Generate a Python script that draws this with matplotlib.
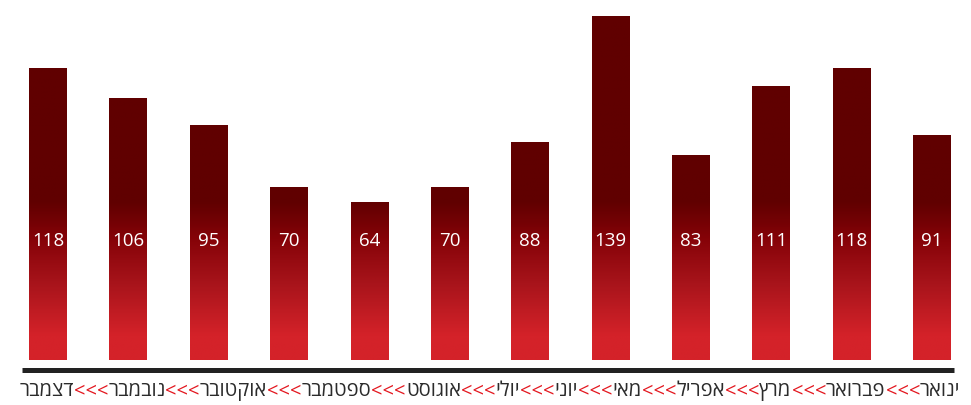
import matplotlib

matplotlib.use("Agg")
import matplotlib.pyplot as plt
import numpy as np
from matplotlib.colors import LinearSegmentedColormap
from matplotlib.transforms import IdentityTransform

# data, January first (Hebrew, logical order)
months = ["ינואר", "פברואר", "מרץ", "אפריל", "מאי", "יוני",
          "יולי", "אוגוסט", "ספטמבר", "אוקטובר", "נובמבר", "דצמבר"]
values = [91, 118, 111, 83, 139, 88, 70, 64, 70, 95, 106, 118]
separator = "<<<"

FAMILY = ["Open Sans", "DejaVu Sans"]
DARK = "#600000"
BRIGHT = "#d42229"
SEP_RED = "#e3161e"
TEXT = "#2b2b2b"

W, H = 971, 406
SLOT_PX = 80.36      # distance between bar centres
UNIT_PX = 2.47       # pixels per value unit
FIRST_PX = 48        # centre of the leftmost bar
BASE_PX = 360.7      # bar bottom, from top of image

fig = plt.figure(figsize=(W / 100, H / 100), dpi=100)
ax = fig.add_axes([0, 0, 1, 1])
ax.axis("off")

# right-to-left: January sits at the right end
pos = (len(months) - 1) - np.arange(len(months))
bar_w = 0.47
vmax = max(values)

cmap = LinearSegmentedColormap.from_list(
    "redfade",
    [(0.0, BRIGHT), (0.07, BRIGHT), (0.22, "#a8141b"), (0.35, "#860308"),
     (0.46, DARK), (1.0, DARK)],
)
grad = np.linspace(0, vmax, 500).reshape(-1, 1)

bars = ax.bar(pos, values, width=bar_w, color="none", edgecolor="none")
for rect, x in zip(bars, pos):
    im = ax.imshow(grad, extent=(x - bar_w / 2, x + bar_w / 2, 0, vmax), origin="lower",
                   cmap=cmap, vmin=0, vmax=vmax, aspect="auto", interpolation="bilinear")
    im.set_clip_path(rect)

label_y = (BASE_PX - 241) / UNIT_PX
for x, v in zip(pos, values):
    ax.text(x, label_y, str(v), color="white", ha="center", va="center",
            fontsize=13.5, family=FAMILY)

ax.set_xlim(-FIRST_PX / SLOT_PX, (W - FIRST_PX) / SLOT_PX)
ax.set_ylim(-(H - BASE_PX) / UNIT_PX, BASE_PX / UNIT_PX)

line_y = -(370.7 - BASE_PX) / UNIT_PX
ax.hlines(line_y, pos.min() - 0.324, pos.max() + 0.274, color="#222222", lw=3.6)

# month row: matplotlib has no bidi, so write it in visual order
pieces = []
for i in np.argsort(pos):
    if pieces:
        pieces.append((separator, SEP_RED))
    pieces.append((months[i][::-1], TEXT))

renderer = fig.canvas.get_renderer()
target_left, target_right, baseline = 19.3, 955.0, H - 396.0


def row_width(size):
    total = 0.0
    for s, c in pieces:
        t = fig.text(0, 0, s, fontsize=size, family=FAMILY, transform=IdentityTransform())
        total += t.get_window_extent(renderer).width
        t.remove()
    return total


size = 12.0 * (target_right - target_left) / row_width(12.0)
x_px = target_left
for s, c in pieces:
    t = fig.text(x_px, baseline, s, fontsize=size, family=FAMILY, color=c,
                 ha="left", va="baseline", transform=IdentityTransform())
    x_px += t.get_window_extent(renderer).width

fig.savefig("out.png", dpi=100)
plt.close(fig)
